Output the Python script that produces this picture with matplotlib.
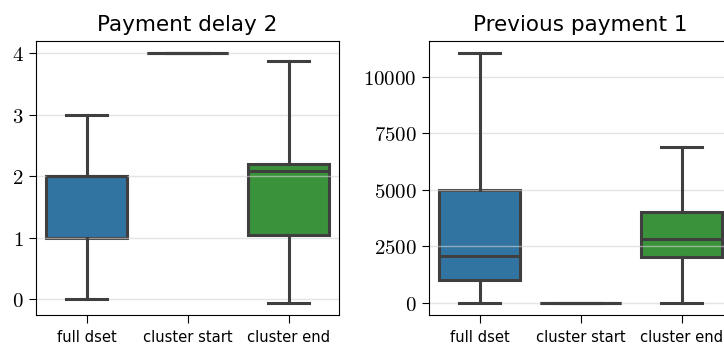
import matplotlib
matplotlib.use("Agg")
from matplotlib import pyplot as plt
from matplotlib.ticker import FormatStrFormatter

plt.rcParams['mathtext.fontset'] = 'cm'

groups = ["full dset", "cluster start", "cluster end"]
colors = ["#3274a1", "#e1812c", "#3a923a"]

# Payment delay 2: (whislo, q1, med, q3, whishi)
delay_stats = [
    (0, 1, 2, 2, 3),
    (4, 4, 4, 4, 4),
    (-0.055, 1.04, 2.08, 2.2, 3.87),
]
# Previous payment 1
payment_stats = [
    (0, 1000, 2080, 5000, 11035),
    (0, 0, 0, 0, 0),
    (0, 2035, 2805, 4027, 6903),
]

def draw(ax, stats, title):
	bxp_stats = []
	for name, (lo, q1, med, q3, hi) in zip(groups, stats):
		bxp_stats.append(dict(label=name, whislo=lo, q1=q1, med=med, q3=q3,
		                      whishi=hi, fliers=[]))
	edge = "#3f3f3f"
	bp = ax.bxp(bxp_stats, positions=range(len(groups)), widths=0.8,
	            patch_artist=True, showfliers=False, capwidths=0.4,
	            boxprops=dict(edgecolor=edge, linewidth=2.2),
	            whiskerprops=dict(color=edge, linewidth=2.2),
	            capprops=dict(color=edge, linewidth=2.2),
	            medianprops=dict(color=edge, linewidth=2.2))
	for patch, c in zip(bp["boxes"], colors):
		patch.set_facecolor(c)
		patch.set_zorder(1)
	ax.set_xlim(-0.5, 2.5)
	ax.margins(y=0.05)
	ax.set_title(title, fontsize=15.5, pad=7)
	ax.yaxis.grid(True, color="#d3d3d3", alpha=0.6, linewidth=1)
	ax.set_axisbelow("line")
	ax.yaxis.set_major_formatter(FormatStrFormatter(r"$%d$"))
	ax.tick_params(axis="y", labelsize=15, length=5, pad=4)
	ax.tick_params(axis="x", labelsize=10.6, length=5.5, pad=5)

fig = plt.figure(figsize=(7.24, 3.47), dpi=100)
ax1 = fig.add_axes([36/724, 1-315/347, 303/724, 274/347])
ax2 = fig.add_axes([429/724, 1-315/347, 303/724, 274/347])

draw(ax1, delay_stats, "Payment delay 2")
ax1.set_yticks([0, 1, 2, 3, 4])
draw(ax2, payment_stats, "Previous payment 1")
ax2.set_yticks([0, 2500, 5000, 7500, 10000])

fig.savefig("out.png", dpi=100)
